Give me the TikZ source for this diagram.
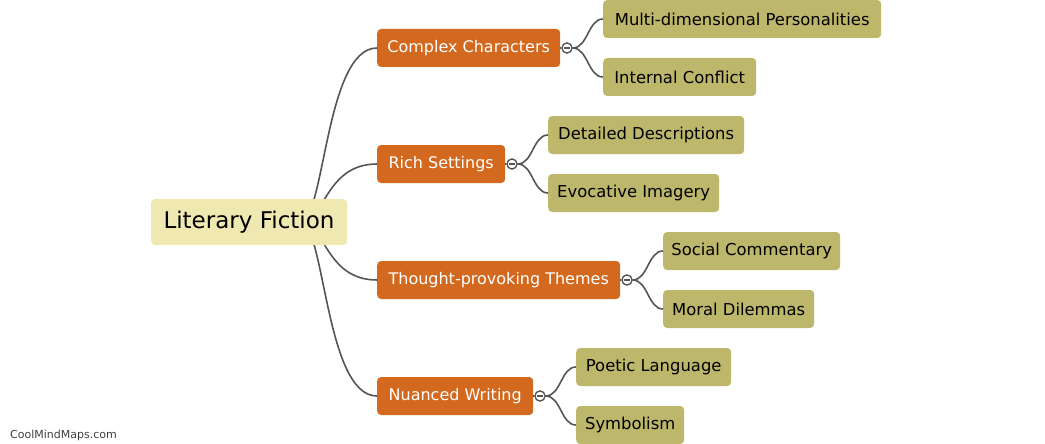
\documentclass[tikz,border=0pt]{standalone}
\usepackage{fontspec}
\setmainfont{DejaVu Sans}
\definecolor{rootc}{HTML}{EFE8B0}
\definecolor{midc}{HTML}{D2691E}
\definecolor{leafc}{HTML}{BDB76B}
\definecolor{edgec}{HTML}{555555}
\begin{document}
\begin{tikzpicture}[x=1pt,y=-1pt,
  rootbox/.style={fill=rootc,rounded corners=4pt,minimum height=46pt,minimum width=196pt,inner sep=0pt,font=\fontsize{23pt}{26pt}\selectfont,text=black},
  midbox/.style={fill=midc,rounded corners=4pt,minimum height=38pt,inner xsep=0pt,inner ysep=0pt,anchor=west,font=\fontsize{16pt}{19pt}\selectfont,text=white},
  leafbox/.style={fill=leafc,rounded corners=4pt,minimum height=38pt,inner xsep=0pt,inner ysep=0pt,anchor=west,font=\fontsize{16.4pt}{19pt}\selectfont,text=black},
  togglec/.style={circle,draw=edgec,fill=white,line width=1.2pt,minimum size=10pt,inner sep=0pt},
  edge/.style={draw=edgec,line width=1.6pt}]
\useasboundingbox (0,0) rectangle (1045,444);
% nodes
\coordinate (rs) at (300,222);
\node[midbox,minimum width=183pt] (c1) at (377,48) {Complex Characters};
\node[midbox,minimum width=128pt] (c2) at (377,164) {Rich Settings};
\node[midbox,minimum width=243pt] (c3) at (377,280) {Thought-provoking Themes};
\node[midbox,minimum width=156pt] (c4) at (377,396) {Nuanced Writing};
\node[togglec] (t1) at (567,48) {};
\node[togglec] (t2) at (512,164) {};
\node[togglec] (t3) at (627,280) {};
\node[togglec] (t4) at (540,396) {};
% edges root
\foreach \c in {c1,c2,c3,c4}{
  \draw[edge] (rs) .. controls (325,222) and (325,0 |- \c.west) .. (\c.west);
}
\foreach \c/\t in {c1/t1,c2/t2,c3/t3,c4/t4}{
  \draw[edge] (\c.east) -- (\t.west);
}
\node[rootbox] (root) at (249,222) {Literary Fiction};
% leaves
\node[leafbox,minimum width=278pt] (l1) at (603,19) {Multi-dimensional Personalities};
\node[leafbox,minimum width=153pt] (l2) at (603,77) {Internal Conflict};
\node[leafbox,minimum width=196pt] (l3) at (548,135) {Detailed Descriptions};
\node[leafbox,minimum width=171pt] (l4) at (548,193) {Evocative Imagery};
\node[leafbox,minimum width=177pt] (l5) at (663,251) {Social Commentary};
\node[leafbox,minimum width=151pt] (l6) at (663,309) {Moral Dilemmas};
\node[leafbox,minimum width=155pt] (l7) at (576,367) {Poetic Language};
\node[leafbox,minimum width=108pt] (l8) at (576,425) {Symbolism};
\foreach \t/\l/\m in {t1/l1/588,t1/l2/588,t2/l3/533,t2/l4/533,t3/l5/648,t3/l6/648,t4/l7/561,t4/l8/561}{
  \draw[edge] (\t.east) .. controls (\m,0 |- \t.east) and (\m,0 |- \l.west) .. (\l.west);
}
% toggles redrawn on top
\foreach \t in {t1,t2,t3,t4}{
  \node[togglec] at (\t) {};
  \draw[edgec,line width=1.2pt] ([xshift=-3pt]\t.center) -- ([xshift=3pt]\t.center);
}
\node[anchor=west,inner sep=0pt,font=\fontsize{11pt}{13pt}\selectfont,text=black!75] (wm) at (10,435) {CoolMindMaps.com};
\end{tikzpicture}
\end{document}
